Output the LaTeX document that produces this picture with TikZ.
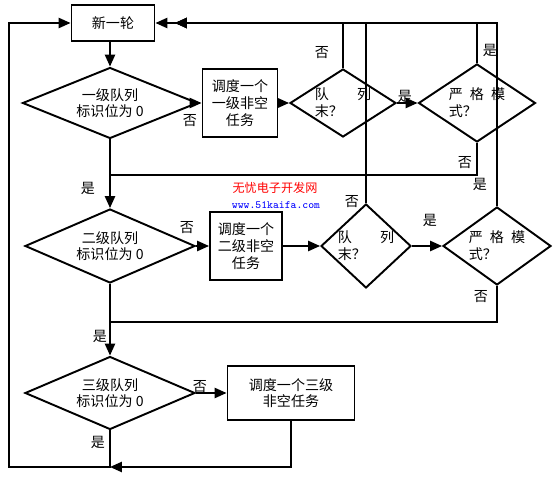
\documentclass[tikz,border=0pt]{standalone}
\usepackage{fontspec}
\newfontfamily\cjk{Noto Sans CJK SC}
\usetikzlibrary{shapes.geometric,arrows.meta}

\begin{document}
\begin{tikzpicture}[x=0.02cm, y=-0.02cm, font=\cjk\fontsize{8}{9.5}\selectfont,
    line/.style={line width=1.1pt},
    arr/.style={line width=1.1pt,-{Triangle[length=6.8pt,width=5.8pt]}},
    taskbox/.style={draw,line width=1.1pt,rectangle,align=center,inner sep=0pt},
    decision/.style={draw,line width=1.1pt,diamond,inner sep=0pt},
    tag/.style={inner sep=0pt}]
      \useasboundingbox (0,0) rectangle (555,479);

      %% boxes
      \node[taskbox, minimum width=1.66cm, minimum height=0.72cm] (start) at (113,23) {新一轮};
      \node[taskbox, minimum width=1.5cm, minimum height=1.36cm] (t1) at (240,103) {调度一个\\一级非空\\任务};
      \node[taskbox, minimum width=1.44cm, minimum height=1.36cm] (t2) at (246,246) {调度一个\\二级非空\\任务};
      \node[taskbox, minimum width=2.54cm, minimum height=1.08cm] (t3) at (291,393) {调度一个三级\\非空任务};

      %% decisions
      \node[decision, minimum width=3.5cm, minimum height=1.42cm] (d1) at (110,103) {};
      \node[decision, minimum width=3.4cm, minimum height=1.48cm] (d2) at (110,246) {};
      \node[decision, minimum width=3.4cm, minimum height=1.46cm] (d3) at (110,393) {};
      \node[decision, minimum width=2.12cm, minimum height=1.36cm] (q1) at (343,103) {};
      \node[decision, minimum width=1.8cm, minimum height=1.68cm] (q2) at (366,246) {};
      \node[decision, minimum width=2.34cm, minimum height=1.56cm] (s1) at (477,103) {};
      \node[decision, minimum width=2.16cm, minimum height=1.56cm] (s2) at (497,246) {};

      %% decision texts
      \node[align=center] (d1txt) at (d1) {一级队列\\标识位为 0};
      \node[align=center] (d2txt) at (d2) {二级队列\\标识位为 0};
      \node[align=center] (d3txt) at (d3) {三级队列\\标识位为 0};
      \node[align=left] (q1txt) at (q1) {队\quad\quad 列\\末？};
      \node[align=left] (q2txt) at (q2) {队\quad\quad 列\\末？};
      \node[align=left] (s1txt) at (s1) {严\enspace 格\enspace 模\\式？};
      \node[align=left] (s2txt) at (s2) {严\enspace 格\enspace 模\\式？};

      %% joints
      \coordinate (topArr) at (175,23);
      \coordinate (j1) at (110,175);
      \coordinate (j2) at (110,322);
      \coordinate (bot) at (110,467);
      \coordinate (botL) at (9,467);

      %% main column
      \draw[arr] (d1.north |- start.south) -- (d1.north);
      \draw[arr] (d1.south) -- (d2.north);
      \draw[arr] (d2.south) -- (d3.north);

      %% first level
      \draw[arr] (d1) -- (t1);
      \draw[arr] (t1) -- (q1);
      \draw[arr] (q1) -- (s1);
      \draw[arr] (q1.north) |- (start.east);
      \draw[arr] (s1.north) |- (topArr);
      \draw[line] (s1.south) |- (j1);

      %% second level
      \draw[arr] (d2) -- (t2);
      \draw[arr] (t2) -- (q2);
      \draw[arr] (q2) -- (s2);
      \draw[arr] (q2.north) |- (topArr);
      \draw[arr] (s2.north) |- (topArr);
      \draw[line] (s2.south) |- (j2);

      %% third level
      \draw[arr] (d3) -- (t3);
      \draw[arr] (t3.south) |- (bot);
      \draw[arr] (d3.south) -- (bot) -- (botL) |- (start.west);

      %% yes / no
      \foreach \n/\x/\y/\t in {1/190/121/否, 2/322/53/否, 3/490/50/是, 4/405/96/是,
                               5/465/163/否, 6/88/188/是, 7/480/184/是, 8/352/202/否,
                               9/187/228/否, 10/430/220/是, 11/481/297/否, 12/100/336/是,
                               13/200/387/否, 14/98/442/是} {
        \node[tag] (tag\n) at (\x,\y) {\t}; }

      %% watermark
      \node[red, font=\cjk\fontsize{6.9}{8}\selectfont] (wm1) at (275,188) {无忧电子开发网};
      \node[blue, font=\ttfamily\fontsize{6.3}{7}\selectfont] (wm2) at (276,205) {www.51kaifa.com};

      \end{tikzpicture}
\end{document}
